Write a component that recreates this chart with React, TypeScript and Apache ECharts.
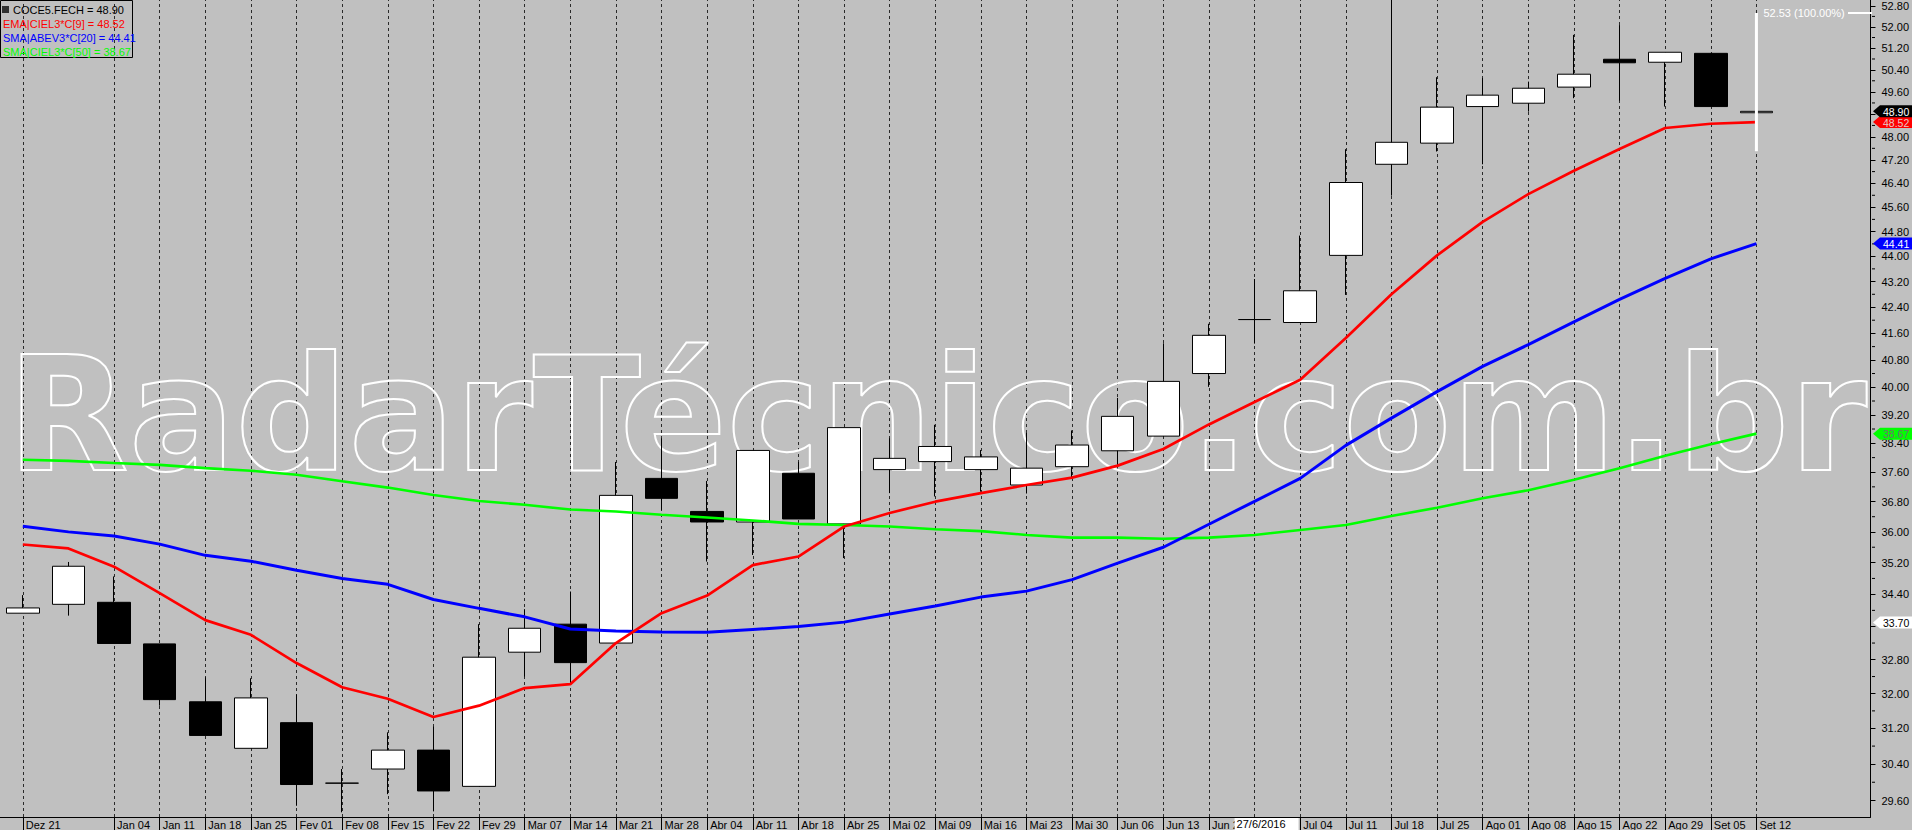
import React, { useEffect, useRef } from 'react';
import * as echarts from 'echarts';

// ---------- data (weekly, COCE5) ----------
const weeks = ['Dez 21','Dez 28','Jan 04','Jan 11','Jan 18','Jan 25','Fev 01','Fev 08','Fev 15','Fev 22','Fev 29','Mar 07','Mar 14','Mar 21','Mar 28','Abr 04','Abr 11','Abr 18','Abr 25','Mai 02','Mai 09','Mai 16','Mai 23','Mai 30','Jun 06','Jun 13','Jun 20','Jun 27','Jul 04','Jul 11','Jul 18','Jul 25','Ago 01','Ago 08','Ago 15','Ago 22','Ago 29','Set 05','Set 12'];
const futureWeeks = ['Set 19', 'Set 26'];
const unlabeledWeeks = ['Dez 28'];

const opens  = [33.93,34.15,34.20,33.18,31.81,30.75,31.33,29.98,30.29,30.71,29.91,32.98,33.66,33.20,37.43,36.54,36.26,37.57,36.21,37.67,37.89,37.67,37.25,37.75,38.19,38.60,40.40,42.02,41.93,44.03,47.05,47.78,49.07,49.19,49.77,50.79,50.68,51.01,48.85];
const closes = [34.06,35.11,33.19,31.86,31.04,31.90,29.95,29.98,30.71,29.81,32.86,33.56,32.73,36.97,36.89,36.26,38.20,36.34,38.84,37.98,38.31,38.02,37.71,38.35,39.16,40.17,41.54,42.02,42.91,46.43,47.81,49.05,49.48,49.73,50.24,50.66,51.05,49.07,48.90];
const lows   = [33.93,33.87,33.19,31.72,31.04,30.75,29.49,29.35,29.74,29.37,29.91,32.40,32.24,33.20,36.58,35.23,35.40,36.34,35.32,37.03,36.94,37.07,37.02,37.43,37.78,38.60,40.01,41.29,41.93,42.78,45.99,47.49,47.05,48.89,49.37,49.28,49.07,49.07,48.85];
const highs  = [34.38,35.22,34.85,33.18,32.38,32.36,31.98,30.29,31.11,31.24,33.66,34.03,34.47,37.88,38.54,37.36,38.20,37.88,38.84,38.54,38.92,38.21,38.69,38.76,39.69,41.30,41.89,43.28,44.67,47.57,53.60,50.13,50.10,49.97,51.70,52.07,51.05,51.01,48.90];

const ema9  = [35.67,35.57,35.10,34.43,33.76,33.40,32.72,32.15,31.88,31.46,31.72,32.13,32.22,33.20,33.93,34.37,35.14,35.36,36.14,36.50,36.80,37.03,37.25,37.45,37.78,38.24,38.93,39.57,40.22,41.46,42.80,44.03,45.12,46.04,46.83,47.58,48.31,48.46,48.52];
const sma20 = [36.15,36.00,35.89,35.68,35.39,35.24,35.01,34.80,34.65,34.27,34.05,33.84,33.54,33.49,33.47,33.46,33.53,33.60,33.71,33.91,34.11,34.33,34.48,34.77,35.19,35.60,36.20,36.81,37.43,38.34,39.11,39.87,40.61,41.26,41.95,42.64,43.30,43.92,44.41];
const sma50 = [37.94,37.91,37.85,37.80,37.71,37.64,37.53,37.35,37.18,36.98,36.82,36.72,36.59,36.54,36.45,36.38,36.30,36.21,36.18,36.14,36.07,36.02,35.92,35.85,35.85,35.82,35.85,35.92,36.05,36.18,36.42,36.64,36.89,37.11,37.39,37.71,38.05,38.37,38.67];

const yLabelValues = [52.8,52.0,51.2,50.4,49.6,48.8,48.0,47.2,46.4,45.6,44.8,44.0,43.2,42.4,41.6,40.8,40.0,39.2,38.4,37.6,36.8,36.0,35.2,34.4,33.6,32.8,32.0,31.2,30.4,29.6];
const yRange = [29.25, 53.03];
const cursorPrice = 33.70;
const cursorDate = '27/6/2016';
const cursorWeek = 'Jun 27';
const measureRange = [52.53, 47.50];
const measureLabel = '52.53 (100.00%)';
const watermark = 'RadarTécnico.com.br';
const symbolName = 'COCE5.FECH';
const emaName = 'EMA|CIEL3*C[9]';
const sma20Name = 'SMA|ABEV3*C[20]';
const sma50Name = 'SMA|CIEL3*C[50]';

const FONT = '"Liberation Sans", Arial, sans-serif';
const W = 1912, H = 830, GRID_RIGHT = 40, GRID_BOTTOM = 13;
const TAG_HALF = 6;

const isLabeled = (v: string) => !unlabeledWeeks.includes(v) && !futureWeeks.includes(v);

export default function App() {
  const ref = useRef<HTMLDivElement>(null);
  useEffect(() => {
    if (!ref.current) return;
    const chart = echarts.init(ref.current, null, { renderer: 'svg' });
    const ln = (v: number) => Math.log(v);
    const last = weeks.length - 1;
    const tags = [
      { v: cursorPrice, bg: '#ffffff', fg: '#000000' },
      { v: sma50[last], bg: '#00ff00', fg: '#707070' },
      { v: sma20[last], bg: '#0000ff', fg: '#ffffff' },
      { v: ema9[last], bg: '#ff0000', fg: '#e8c8c8' },
      { v: closes[last], bg: '#000000', fg: '#ffffff' },
    ];
    const option: any = {
      animation: false,
      backgroundColor: '#c0c0c0',
      grid: { left: 0, right: GRID_RIGHT, top: 0, bottom: GRID_BOTTOM, containLabel: false },
      xAxis: {
        type: 'category',
        data: [...weeks, ...futureWeeks],
        boundaryGap: true,
        axisLine: { show: true, lineStyle: { color: '#000', width: 1 } },
        axisTick: { show: true, alignWithLabel: true, length: 13, interval: (_i: number, v: string) => isLabeled(v), lineStyle: { color: '#000' } },
        axisLabel: { show: true, interval: (_i: number, v: string) => isLabeled(v) && v !== cursorWeek, align: 'left', padding: [0, 0, 0, 3], margin: 2, color: '#000', fontSize: 11, fontFamily: FONT },
        splitLine: { show: false },
      },
      yAxis: {
        type: 'value',
        position: 'right',
        min: ln(yRange[0]),
        max: ln(yRange[1]),
        axisLine: { show: true, lineStyle: { color: '#000', width: 1 } },
        axisTick: { show: true, length: 5, lineStyle: { color: '#000' }, customValues: yLabelValues.map(ln) },
        axisLabel: { show: true, customValues: yLabelValues.map(ln), formatter: (v: number) => Math.exp(v).toFixed(2), color: '#000', fontSize: 11, fontFamily: FONT, margin: 11 },
        splitLine: { show: false },
      },
      series: [
        {
          type: 'line', z: 1, data: weeks.map(() => null), symbol: 'none', silent: true,
          lineStyle: { opacity: 0 },
          markLine: {
            z: 1, silent: true, symbol: ['none', 'none'], label: { show: false },
            lineStyle: { color: '#2a2a2a', width: 1, type: [3, 3] },
            emphasis: { disabled: true },
            data: weeks.filter(isLabeled).map((w) => ({ xAxis: w })),
          },
        },
        {
          type: 'candlestick', z: 3, barWidth: 33,
          data: weeks.map((_, i) => [ln(opens[i]), ln(closes[i]), ln(lows[i]), ln(highs[i])]),
          itemStyle: { color: '#ffffff', color0: '#000000', borderColor: '#000000', borderColor0: '#000000', borderWidth: 1 },
        },
        { type: 'line', z: 5, data: sma50.map(ln), symbol: 'none', lineStyle: { color: '#00ff00', width: 2.6 } },
        { type: 'line', z: 5, data: sma20.map(ln), symbol: 'none', lineStyle: { color: '#0000ff', width: 3 } },
        { type: 'line', z: 6, data: ema9.map(ln), symbol: 'none', lineStyle: { color: '#ff0000', width: 2.7 } },
      ],
    };
    chart.setOption(option);

    const yPix = (p: number) => chart.convertToPixel({ yAxisIndex: 0 }, ln(p)) as number;
    const xPix = (w: string) => chart.convertToPixel({ xAxisIndex: 0 }, w) as number;

    // price labels hidden behind the axis tags (as in the original software)
    const tagYs = tags.map((t) => yPix(t.v));
    const visibleLabels = yLabelValues.filter((v) => tagYs.every((ty) => Math.abs(yPix(v) - ty) > TAG_HALF + 3));
    chart.setOption({ yAxis: { axisLabel: { customValues: visibleLabels.map(ln) } } });

    const axisX = W - GRID_RIGHT;
    const g: any[] = [];

    // watermark
    g.push({ type: 'text', z: 1, silent: true, x: 7, y: 415,
      style: { text: watermark, font: 'bold 158px "DejaVu Sans", Verdana, sans-serif', fill: 'rgba(0,0,0,0)', stroke: '#ffffff', lineWidth: 2, align: 'left', verticalAlign: 'middle' } });

    // minor ticks on price axis
    for (let i = 0; i < yLabelValues.length - 1; i++) {
      const y = yPix((yLabelValues[i] + yLabelValues[i + 1]) / 2);
      g.push({ type: 'line', z: 5, silent: true, shape: { x1: axisX, y1: y, x2: axisX + 3, y2: y }, style: { stroke: '#000', lineWidth: 1 } });
    }

    // legend box
    g.push({ type: 'rect', z: 10, silent: true, shape: { x: 0.5, y: 0.5, width: 132, height: 57 }, style: { fill: 'rgba(0,0,0,0)', stroke: '#000', lineWidth: 1 } });
    g.push({ type: 'rect', z: 10, silent: true, shape: { x: 2, y: 6, width: 7, height: 7 }, style: { fill: '#303030' } });
    const legendLines = [
      { t: `${symbolName} = ${closes[last].toFixed(2)}`, c: '#000000', x: 13, y: 10 },
      { t: `${emaName} = ${ema9[last].toFixed(2)}`, c: '#ff0000', x: 3, y: 24 },
      { t: `${sma20Name} = ${sma20[last].toFixed(2)}`, c: '#0000ff', x: 3, y: 38 },
      { t: `${sma50Name} = ${sma50[last].toFixed(2)}`, c: '#00ff00', x: 3, y: 52 },
    ];
    legendLines.forEach((l) => g.push({ type: 'text', z: 10, silent: true, x: l.x, y: l.y,
      style: { text: l.t, fill: l.c, font: `11px ${FONT}`, align: 'left', verticalAlign: 'middle' } }));

    // price tags on the axis
    tags.forEach((t, k) => {
      const y = tagYs[k];
      const tip = axisX + 1;
      g.push({ type: 'polygon', z: 20 + k * 2, silent: true,
        shape: { points: [[tip, y], [tip + 7, y - TAG_HALF], [W, y - TAG_HALF], [W, y + TAG_HALF], [tip + 7, y + TAG_HALF]] },
        style: { fill: t.bg } });
      g.push({ type: 'text', z: 21 + k * 2, silent: true, x: axisX + 11, y: y + 0.5,
        style: { text: t.v.toFixed(2), fill: t.fg, font: `10.5px ${FONT}`, align: 'left', verticalAlign: 'middle' } });
    });

    // measuring tool at the last bar
    const xl = xPix(weeks[last]);
    const yt = yPix(measureRange[0]);
    const yb = yPix(measureRange[1]);
    g.push({ type: 'line', z: 15, silent: true, shape: { x1: xl, y1: yt, x2: xl, y2: yb }, style: { stroke: '#ffffff', lineWidth: 3 } });
    g.push({ type: 'line', z: 15, silent: true, shape: { x1: axisX - 24, y1: yt, x2: axisX, y2: yt }, style: { stroke: '#ffffff', lineWidth: 2 } });
    g.push({ type: 'text', z: 15, silent: true, x: xl + 7, y: yt,
      style: { text: measureLabel, fill: '#ffffff', font: `11px ${FONT}`, align: 'left', verticalAlign: 'middle' } });

    // cursor date box on the time axis
    const xc = xPix(cursorWeek);
    g.push({ type: 'rect', z: 20, silent: true, shape: { x: xc - 20, y: H - GRID_BOTTOM + 1, width: 64, height: GRID_BOTTOM }, style: { fill: '#ffffff' } });
    g.push({ type: 'text', z: 21, silent: true, x: xc - 18, y: H - GRID_BOTTOM / 2 + 0.5,
      style: { text: cursorDate, fill: '#000000', font: `11px ${FONT}`, align: 'left', verticalAlign: 'middle' } });

    chart.setOption({ graphic: g });
    return () => chart.dispose();
  }, []);
  return <div ref={ref} style={{ position: 'fixed', left: 0, top: 0, width: W, height: H }} />;
}
